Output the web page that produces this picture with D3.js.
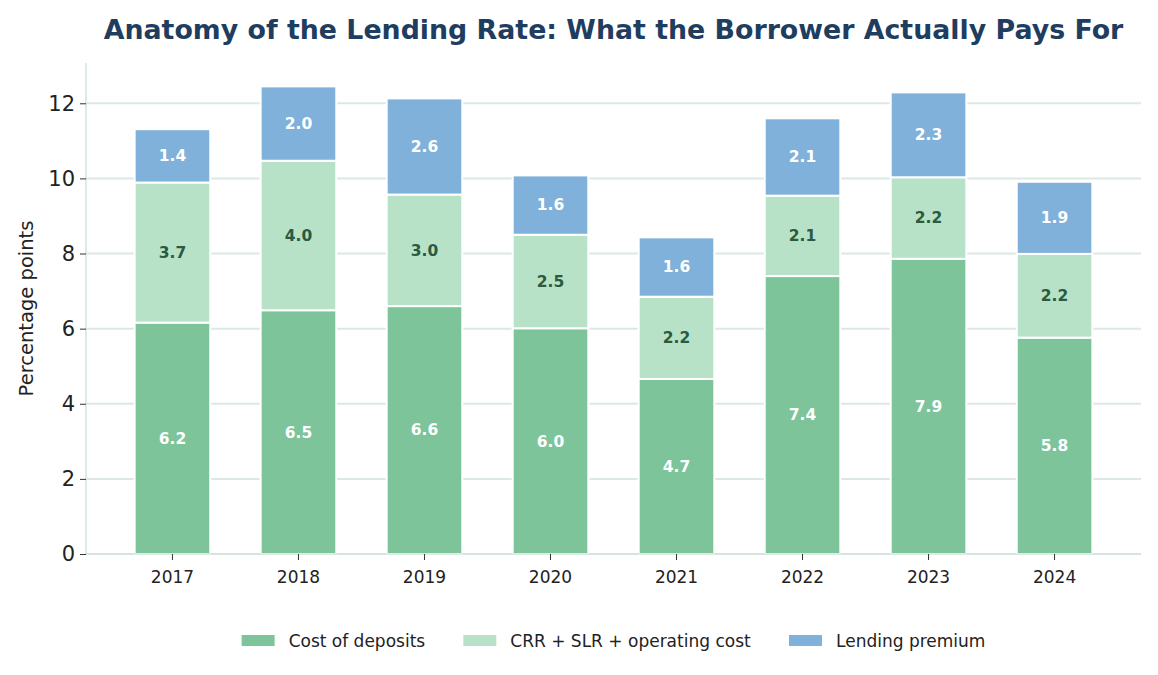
<!DOCTYPE html>
<html>
<head>
<meta charset="utf-8">
<script src="https://cdn.jsdelivr.net/npm/d3@7"></script>
<style>
  body { margin: 0; background: #fff; }
  svg { display: block; font-family: "DejaVu Sans", sans-serif; }
</style>
</head>
<body>
<div id="chart"></div>
<script>
const years = ['2017', '2018', '2019', '2020', '2021', '2022', '2023', '2024'];
const costOfDeposits = [6.16, 6.49, 6.60, 6.01, 4.66, 7.40, 7.86, 5.76];
const crrSlrOpCost = [3.73, 3.98, 2.97, 2.49, 2.19, 2.14, 2.17, 2.23];
const lendingPremium = [1.42, 1.98, 2.56, 1.58, 1.58, 2.06, 2.26, 1.92];
const seriesNames = ['Cost of deposits', 'CRR + SLR + operating cost', 'Lending premium'];
const yTicks = [0, 2, 4, 6, 8, 10, 12];

const width = 1158;
const height = 675;
const margin = { top: 63, right: 17, bottom: 121, left: 86 };

const colors = ['#7dc49b', '#b7e2c7', '#80b1da'];
const labelColors = ['#ffffff', '#2b5a40', '#ffffff'];

const svg = d3.select('#chart')
    .append('svg')
    .attr('width', width)
    .attr('height', height);

// build rows for the stack
const keys = ['deposits', 'crr', 'premium'];
const rows = years.map((y, i) => ({
  year: y,
  deposits: costOfDeposits[i],
  crr: crrSlrOpCost[i],
  premium: lendingPremium[i]
}));
const stacked = d3.stack().keys(keys)(rows);

const maxTotal = d3.max(rows, d => d.deposits + d.crr + d.premium);

const xScale = d3.scaleBand()
    .domain(years)
    .range([margin.left, width - margin.right])
    .paddingInner(0.4)
    .paddingOuter(0.386);

const yScale = d3.scaleLinear()
    .domain([0, maxTotal * 1.05])
    .range([height - margin.bottom, margin.top]);

// gridlines
svg.append('g')
    .selectAll('line')
    .data(yTicks)
    .join('line')
    .attr('x1', margin.left)
    .attr('x2', width - margin.right)
    .attr('y1', d => yScale(d))
    .attr('y2', d => yScale(d))
    .attr('stroke', '#dbe8e3')
    .attr('stroke-width', 2);

// bars
const layers = svg.append('g')
    .selectAll('g')
    .data(stacked)
    .join('g')
    .attr('fill', (d, i) => colors[i]);

layers.selectAll('rect')
    .data(d => d)
    .join('rect')
    .attr('x', d => xScale(d.data.year))
    .attr('width', xScale.bandwidth())
    .attr('y', d => yScale(d[1]))
    .attr('height', d => yScale(d[0]) - yScale(d[1]))
    .attr('stroke', '#ffffff')
    .attr('stroke-width', 2);

// segment labels
stacked.forEach((layer, i) => {
  svg.append('g')
      .selectAll('text')
      .data(layer)
      .join('text')
      .attr('x', d => xScale(d.data.year) + xScale.bandwidth() / 2)
      .attr('y', d => yScale((d[0] + d[1]) / 2))
      .attr('dy', '0.35em')
      .attr('text-anchor', 'middle')
      .attr('font-size', 15.5)
      .attr('font-weight', 'bold')
      .attr('fill', labelColors[i])
      .text(d => (d[1] - d[0]).toFixed(1));
});

// spines
svg.append('line')
    .attr('x1', margin.left).attr('x2', margin.left)
    .attr('y1', margin.top).attr('y2', height - margin.bottom)
    .attr('stroke', '#d3e3de').attr('stroke-width', 1.5);
svg.append('line')
    .attr('x1', margin.left).attr('x2', width - margin.right)
    .attr('y1', height - margin.bottom).attr('y2', height - margin.bottom)
    .attr('stroke', '#d3e3de').attr('stroke-width', 1.5);

// y axis
const yAxis = svg.append('g')
    .attr('transform', `translate(${margin.left}, 0)`)
    .call(d3.axisLeft(yScale).tickValues(yTicks).tickSize(6).tickPadding(5));
yAxis.select('.domain').remove();
yAxis.selectAll('line').attr('stroke', '#333');
yAxis.selectAll('text')
    .attr('font-family', '"DejaVu Sans", sans-serif')
    .attr('font-size', 21)
    .attr('fill', '#222');

// x axis
const xAxis = svg.append('g')
    .attr('transform', `translate(0, ${height - margin.bottom})`)
    .call(d3.axisBottom(xScale).tickSize(6).tickPadding(11));
xAxis.select('.domain').remove();
xAxis.selectAll('line').attr('stroke', '#333');
xAxis.selectAll('text')
    .attr('font-family', '"DejaVu Sans", sans-serif')
    .attr('font-size', 17)
    .attr('fill', '#222');

// y label
svg.append('text')
    .attr('transform', `translate(33, ${(margin.top + height - margin.bottom) / 2}) rotate(-90)`)
    .attr('text-anchor', 'middle')
    .attr('font-size', 19.5)
    .attr('fill', '#222')
    .text('Percentage points');

// title
svg.append('text')
    .attr('x', (margin.left + width - margin.right) / 2)
    .attr('y', 39)
    .attr('text-anchor', 'middle')
    .attr('font-size', 26.8)
    .attr('font-weight', 'bold')
    .attr('fill', '#1f3d5f')
    .text('Anatomy of the Lending Rate: What the Borrower Actually Pays For');

// legend
const legend = svg.append('g');
const legendItems = legend.selectAll('g')
    .data(seriesNames)
    .join('g');
legendItems.append('rect')
    .attr('width', 33)
    .attr('height', 11)
    .attr('y', -6)
    .attr('fill', (d, i) => colors[i]);
legendItems.append('text')
    .attr('x', 47)
    .attr('dy', '0.35em')
    .attr('font-size', 17)
    .attr('fill', '#222')
    .text(d => d);

const legendGap = 38;
let offset = 0;
legendItems.each(function() {
  const w = this.getBBox().width;
  d3.select(this).attr('transform', `translate(${offset}, 0)`);
  offset += w + legendGap;
});
const legendWidth = offset - legendGap;
legend.attr('transform', `translate(${(margin.left + width - margin.right) / 2 - legendWidth / 2}, 641)`);
</script>
</body>
</html>
